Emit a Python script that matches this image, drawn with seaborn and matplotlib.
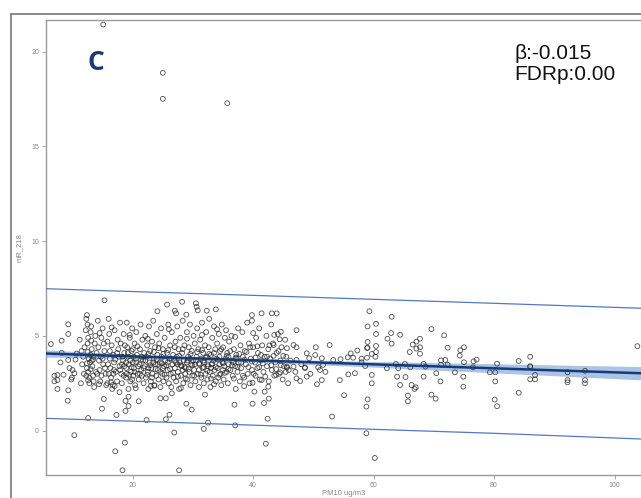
import numpy as np
import pandas as pd
import matplotlib
matplotlib.use("Agg")
import matplotlib.pyplot as plt
from matplotlib.lines import Line2D
import seaborn as sns

# ---------------- data ----------------
# observations (PM10 ug/m3, mR_218), grouped by PM10 band
band_06_14 = [(6.4,4.57),(7.0,2.9),(7.0,2.6),(7.5,2.2),(7.5,2.94),(7.5,2.67),(8.2,4.75),(8.2,4.11),(8.0,3.6),
              (8.5,2.95),(9.3,5.61),(9.3,5.1),(9.3,3.73),(9.2,1.58),(9.3,2.13),(9.5,3.3),(9.9,2.8),(10.3,3.03),
              (10.3,-0.24),(10.7,4.07),(10.5,3.75),(10.0,3.2),(9.8,2.7),
              (11.2,4.8),(11.5,4.2),(11.8,3.9),(11.6,3.5),(11.9,3.0),(11.4,2.5),(12.0,4.4),(12.2,5.3),(12.3,5.9),
              (12.4,6.1),(12.5,5.6),(12.6,4.9),(12.5,4.6),(12.4,3.3),(12.6,3.1),(12.6,0.67),(12.8,2.8),(12.8,2.5),
              (12.9,3.6),(13.0,4.0),(13.0,5.2),(13.1,5.5),(13.2,4.3),(13.3,3.4),(13.4,2.9),(13.5,2.6),(13.5,3.9),
              (13.7,4.6),(13.8,5.0),(13.9,3.1),(13.6,2.3),(12.7,3.8),(13.2,3.7),(12.3,2.9)]
band_14_22 = [(14.2,5.8),(14.3,4.4),(14.4,3.7),(14.5,3.2),(14.6,2.6),(14.4,2.45),(14.9,1.16),(14.8,4.9),(15.0,5.4),
              (15.1,3.5),(15.2,1.67),(15.3,6.88),(15.3,4.2),(15.5,3.0),(15.6,2.4),(15.8,2.5),(15.8,4.7),(16.0,5.9),
              (16.1,5.1),(16.2,3.8),(16.3,3.3),(16.4,2.8),(16.5,4.5),(16.6,2.2),(16.7,2.41),(16.8,4.0),(16.9,3.6),
              (17.0,5.3),(17.1,-1.09),(17.3,0.83),(17.2,3.1),(17.4,2.6),(17.5,4.8),(17.6,4.3),(17.8,2.03),
              (17.8,3.4),(17.9,5.7),(17.7,3.9),(14.7,3.9),(15.4,3.3),(16.0,3.0),(16.9,3.2),
              (18.0,4.6),(18.1,3.0),(18.2,2.5),(18.3,-2.09),(18.4,3.7),(18.5,5.1),(18.6,4.1),(18.7,-0.63),
              (18.8,1.04),(18.8,1.57),(18.9,2.8),(18.9,3.3),(19.0,5.7),(19.1,4.4),(19.2,3.9),(19.3,1.3),(19.3,1.79),
              (19.3,2.2),(19.4,3.5),(19.5,4.9),(19.6,2.6),(19.7,3.1),(19.8,4.2),(19.9,5.4),(20.0,3.6),(20.1,2.9),
              (20.2,3.3),(20.3,4.6),(20.4,2.4),(20.5,2.24),(20.5,3.8),(20.6,5.2),(20.7,4.0),(20.8,3.0),(21.0,1.55),
              (21.0,2.7),(21.1,3.5),(21.2,4.3),(21.3,5.6),(21.4,3.2),(21.5,2.9),(21.6,4.8),(21.7,3.7),(21.8,2.5),
              (21.9,4.1),(18.6,3.4),(19.0,3.0),(19.6,3.7),(20.2,3.9),(20.9,3.4),(21.5,3.9),(18.3,3.9),(19.9,2.7)]
band_22_30 = [(22.0,3.4),(22.1,5.0),(22.2,2.8),(22.3,0.56),(22.3,3.9),(22.4,4.5),(22.5,3.1),(22.6,2.2),(22.7,5.5),
              (22.8,3.6),(22.9,4.2),(23.0,2.6),(23.1,3.3),(23.2,4.7),(23.3,3.0),(23.4,5.8),(23.5,3.8),(23.6,2.4),
              (23.6,2.37),(23.7,4.4),(23.8,3.5),(23.9,2.9),(24.0,5.1),(24.1,6.3),(24.1,4.0),(24.2,3.2),(24.3,2.7),
              (24.4,4.6),(24.5,3.6),(24.6,1.71),(24.6,2.3),(24.7,5.4),(24.8,3.9),(24.9,3.0),(25.0,4.3),(25.1,2.6),
              (25.2,3.4),(25.3,4.9),(25.5,1.71),(25.5,0.6),(25.4,3.7),(25.6,2.8),(25.7,6.65),(25.7,4.1),(25.8,3.2),
              (25.9,5.6),(26.0,2.5),(26.1,0.84),(26.1,3.8),(22.6,3.3),(23.4,3.6),(24.2,3.5),(25.0,3.3),(25.8,3.6),
              (26.2,4.5),(26.3,3.0),(26.4,2.3),(26.5,1.97),(26.5,5.2),(26.6,3.5),(26.7,4.0),(26.8,2.8),(26.9,-0.1),
              (27.0,6.33),(27.0,3.3),(27.1,4.7),(27.2,6.19),(27.2,2.6),(27.3,3.9),(27.4,5.5),(27.5,3.1),(27.6,4.3),
              (27.7,-2.09),(27.7,2.2),(27.8,3.6),(27.9,4.9),(28.0,2.9),(28.1,3.4),(28.2,6.8),(28.2,4.1),(28.3,5.8),
              (28.4,2.5),(28.5,3.7),(28.6,4.5),(28.7,3.0),(28.9,1.42),(28.9,6.12),(28.8,3.3),(29.0,5.2),(29.1,2.7),
              (29.2,3.9),(29.3,4.4),(29.4,3.1),(29.5,5.6),(29.6,2.4),(29.7,3.5),(29.8,1.11),(29.8,4.2),(29.9,2.9),
              (26.9,3.7),(27.5,3.5),(28.3,3.2),(29.0,3.6),(29.5,3.8)]
band_30_38 = [(30.0,3.7),(30.1,5.0),(30.2,3.2),(30.3,4.6),(30.5,6.72),(30.6,6.54),(30.4,2.6),(30.6,3.9),(30.7,5.4),
              (30.8,6.35),(30.8,3.0),(30.9,4.3),(31.0,2.3),(31.1,3.5),(31.2,4.8),(31.3,3.8),(31.4,2.8),(31.5,5.7),
              (31.6,3.3),(31.7,4.1),(31.8,0.09),(31.8,2.5),(31.9,3.6),(32.0,1.9),(32.0,4.5),(32.1,3.0),(32.2,5.2),
              (32.3,6.33),(32.3,3.9),(32.4,2.7),(32.5,0.42),(32.5,3.4),(32.6,4.4),(32.7,5.9),(32.8,3.1),(32.9,2.3),
              (33.0,4.0),(33.1,3.5),(33.2,4.9),(33.3,2.9),(33.4,3.7),(33.5,5.5),(33.6,3.2),(33.7,4.3),(33.8,6.4),
              (33.8,2.6),(33.9,3.8),(30.3,3.5),(31.0,3.2),(31.7,3.7),(32.4,3.5),(33.0,3.3),
              (34.0,4.6),(34.1,3.3),(34.2,2.8),(34.3,5.1),(34.4,3.9),(34.5,4.2),(34.6,3.0),(34.7,2.4),(34.8,5.6),
              (34.9,3.6),(35.0,4.4),(35.1,2.7),(35.2,3.4),(35.3,4.9),(35.4,3.8),(35.5,5.3),(35.6,3.1),(35.7,4.1),
              (35.8,2.5),(35.9,3.5),(36.0,4.7),(36.2,3.2),(36.4,5.0),(36.5,3.7),(36.6,2.9),(36.8,4.3),(36.9,1.37),
              (37.0,0.28),(37.0,3.4),(37.1,2.2),(37.2,4.0),(37.4,3.1),(37.5,5.4),(37.6,3.6),(37.8,2.6),(37.9,4.5),
              (34.4,3.5),(35.0,3.2),(35.9,3.9),(36.7,3.6),(37.3,3.8)]
band_38_54 = [(38.0,3.3),(38.2,5.2),(38.3,3.9),(38.5,2.8),(38.6,4.2),(38.8,3.5),(39.0,5.7),(39.1,3.0),(39.3,4.6),
              (39.4,2.5),(39.6,3.8),(39.8,6.1),(39.8,5.8),(39.8,3.2),(39.9,1.42),(39.9,2.53),(40.0,4.4),(40.2,2.06),
              (40.3,3.6),(40.4,2.9),(40.5,4.9),(40.7,3.3),(40.8,4.1),(41.0,5.4),(41.1,2.7),(41.3,3.7),(41.4,6.19),
              (41.4,2.67),(41.5,4.5),(41.7,3.1),(41.8,1.46),(41.9,2.06),(41.9,3.9),
              (42.1,-0.69),(42.2,5.0),(42.3,3.4),(42.4,0.63),(42.5,4.3),(42.5,2.32),(42.6,1.69),(42.6,2.6),
              (42.8,3.8),(43.0,5.6),(43.1,6.19),(43.1,3.2),(43.3,4.6),(43.4,4.52),(43.5,2.9),(43.7,3.6),(43.8,2.94),
              (43.9,6.19),(43.9,4.1),(44.1,5.1),(44.3,3.0),(44.4,4.82),(44.5,3.08),(44.5,3.7),(44.6,5.22),(44.7,4.4),
              (44.9,2.7),(45.1,3.4),(45.3,4.8),(45.5,3.9),(45.6,4.35),(45.6,3.38),(45.6,3.32),(45.8,2.5),(45.9,3.2),
              (46.7,4.52),(46.7,3.38),(47.2,5.3),(47.2,4.4),(47.2,3.73),(47.2,2.76),(47.8,2.62),(48.6,3.34),
              (48.6,3.3),(48.9,4.08),(48.9,2.85),(49.3,3.82),(50.3,3.99),(50.4,4.4),(50.6,2.45),(50.8,3.34),
              (51.1,3.2),(51.4,3.82),(51.4,2.67),(51.6,3.47),(52.7,4.52),(53.1,0.74),(53.3,3.73),(46.2,3.7),
              (47.0,3.1),(48.0,3.5),(49.5,3.0),(52.0,3.1)]
band_54_up = [(54.4,2.67),(54.5,3.77),(55.1,1.87),(55.7,3.87),(55.8,2.97),(56.2,4.08),(56.6,3.85),(56.9,3.03),
              (57.3,4.23),(58.0,3.8),(58.0,3.61),(58.6,3.41),(58.8,1.27),(58.8,-0.14),(58.9,4.36),(58.9,3.85),
              (59.0,5.5),(59.0,4.68),(59.0,4.38),(59.0,1.65),(59.3,6.3),(59.7,4.05),(59.7,2.94),(59.7,2.5),
              (60.2,-1.44),(60.3,3.9),(60.4,5.64),(60.4,5.1),(60.4,4.47),(60.4,4.15),(62.2,3.29),(62.3,4.85),
              (62.9,5.15),(63.0,6.01),(63.0,4.59),(63.7,3.52),(63.9,2.85),(64.1,3.29),(64.4,5.06),(64.4,2.41),
              (65.2,3.52),(65.3,2.83),(65.7,1.85),(65.7,1.55),(66.0,4.15),(66.1,3.34),(66.3,2.41),(66.5,4.54),
              (66.8,2.2),(67.0,2.29),(67.1,4.7),(67.1,4.33),(67.7,4.85),(67.7,4.4),(67.7,4.06),(68.3,3.52),
              (68.3,2.85),(68.6,3.38),(69.6,5.36),(69.6,1.9),(70.3,1.69),(70.4,3.03),(71.1,2.6),(71.2,3.71),
              (71.2,3.48),(71.7,5.03),(71.9,3.73),(72.3,4.38),(72.3,3.48),(73.5,3.08),(74.3,3.96),(74.4,4.24),
              (74.9,2.85),(74.9,2.32),(75.0,4.4),(75.0,3.61),(76.5,3.34),(76.6,3.66),(77.1,3.75),(79.3,3.08),
              (80.1,1.64),(80.2,3.08),(80.2,2.6),(80.5,3.53),(80.5,1.29),(84.1,3.68),(84.1,2.0),(86.0,3.9),
              (86.0,3.4),(86.0,3.38),(86.0,2.71),(86.8,2.94),(86.8,2.71),(92.2,3.08),(92.2,2.67),(92.2,2.55),
              (95.1,3.16),(95.1,2.67),(95.1,2.5),(103.8,4.46)]
# extra overlapping observations in the dense core (12-46 ug/m3)
core_extra = [(12.4,3.55),(12.5,4.15),(12.6,2.65),(13.0,3.25),(13.1,4.75),(13.4,3.75),(14.0,4.1),(14.1,3.0),
              (14.8,2.9),(15.0,3.8),(15.2,4.6),(15.9,3.5),(16.2,4.2),(16.4,2.55),(16.8,3.0),(17.1,3.75),
              (17.4,4.1),(17.9,3.2),(18.2,3.5),(18.5,2.9),(18.7,4.5),(18.9,3.6),(19.2,4.1),(19.4,2.95),
              (19.8,3.35),(20.0,4.3),(20.3,3.1),(20.6,3.6),(20.8,4.45),(21.2,3.0),(21.4,3.75),(21.8,3.3),
              (22.1,3.7),(22.4,2.95),(22.6,4.05),(22.9,3.45),(23.2,2.8),(23.5,4.15),(23.8,3.25),(24.0,3.75),
              (24.3,4.35),(24.6,3.1),(24.8,3.55),(25.1,4.05),(25.3,2.95),(25.6,3.45),(25.9,4.25),(26.2,3.25),
              (26.4,3.8),(26.7,3.05),(27.0,4.4),(27.2,3.6),(27.5,2.85),(27.7,3.95),(28.0,3.45),(28.3,4.3),
              (28.6,3.35),(28.8,2.75),(29.1,3.7),(29.3,3.25),(29.6,4.05),(29.9,3.45),(30.2,2.9),(30.5,3.7),
              (30.7,4.15),(31.0,3.55),(31.3,2.95),(31.5,4.25),(31.8,3.35),(32.1,3.85),(32.4,3.15),(32.7,4.05),
              (33.0,2.75),(33.2,3.55),(33.5,4.1),(33.8,3.35),(34.1,3.75),(34.4,2.95),(34.7,4.3),(35.0,3.55),
              (35.3,3.05),(35.6,3.95),(35.9,3.25),(36.2,4.2),(36.5,3.45),(36.8,2.75),(37.1,3.85),(37.4,3.35),
              (37.7,4.05),(38.0,3.6),(38.3,2.9),(38.6,3.75),(38.9,4.15),(39.2,3.35),(39.5,4.4),(39.8,3.65),
              (40.1,3.0),(40.4,3.85),(40.7,4.45),(41.0,3.35),(41.3,4.0),(41.6,3.55),(42.0,2.85),(42.3,3.9),
              (42.7,4.5),(43.0,3.45),(43.4,3.95),(43.8,3.25),(44.2,4.2),(44.6,3.45),(45.0,3.95),(45.4,3.1),
              (14.5,5.15),(16.5,5.45),(19.5,5.05),(22.5,4.85),(26.0,5.35),(29.0,4.85),(31.5,5.05),(34.0,5.35),
              (37.0,4.95),(40.0,5.15),(43.5,5.05),(17.0,2.35),(23.0,2.35),(28.0,2.25),(33.5,2.45),(38.5,2.35)]
high_outliers = [(15.1,21.43),(25.0,18.88),(25.0,17.51),(35.7,17.28)]

# fitted regression line, its confidence band and prediction limits
fit_x = [5.6, 20.0, 30.0, 40.0, 60.0, 80.0, 104.4]
fit_y = [4.07, 3.92, 3.82, 3.71, 3.50, 3.29, 3.03]
ci_half = [0.19, 0.11, 0.09, 0.09, 0.15, 0.24, 0.35]
pi_upper = [7.49, 7.34, 7.24, 7.14, 6.93, 6.72, 6.46]
pi_lower = [0.65, 0.50, 0.40, 0.29, 0.07, -0.14, -0.44]

x_ticks = [20, 40, 60, 80, 100]
y_ticks = [0, 5, 10, 15, 20]
panel_label = "C"
stats_text = "β:-0.015\nFDRp:0.00"
x_label = "PM10 ug/m3"
y_label = "mR_218"

# ---------------- figure ----------------
sns.set_style("white")
plt.rcParams['font.family'] = ['Liberation Sans', 'DejaVu Sans']

W, H = 641, 498
fig = plt.figure(figsize=(W/100, H/100), dpi=100)
ax = fig.add_axes([46/W, 1-475/H, 1-46/W, (475-20)/H])

pts = (band_06_14 + band_14_22 + band_22_30 + band_30_38 + band_38_54 + band_54_up
       + core_extra + high_outliers)
df = pd.DataFrame(pts, columns=["pm10", "mir"])

# confidence band
lo = np.array(fit_y) - np.array(ci_half)
hi = np.array(fit_y) + np.array(ci_half)
ax.fill_between(fit_x, lo, hi, color="#8fb0de", alpha=0.75, lw=0, zorder=1)

sns.scatterplot(data=df, x="pm10", y="mir", ax=ax, marker="o", s=12,
                facecolor="none", edgecolor="#222222", linewidth=0.6, alpha=0.8, zorder=2)

line_df = pd.DataFrame({"x": fit_x, "fit": fit_y, "up": pi_upper, "lo": pi_lower})
sns.lineplot(data=line_df, x="x", y="fit", ax=ax, color="#173a78", lw=1.8, zorder=3)
sns.lineplot(data=line_df, x="x", y="up", ax=ax, color="#5577c4", lw=0.9, zorder=3)
sns.lineplot(data=line_df, x="x", y="lo", ax=ax, color="#5577c4", lw=0.9, zorder=3)

ax.set_xlim(5.6, 104.4)
ax.set_ylim(-2.34, 21.67)
ax.set_xticks(x_ticks)
ax.set_yticks(y_ticks)
ax.tick_params(axis="both", which="both", length=3, width=0.6, color="#999999",
               labelsize=5, labelcolor="#888888", pad=2, direction="out")
ax.tick_params(axis="x", bottom=True)
ax.tick_params(axis="y", left=True)
for side in ["left", "bottom", "top"]:
    ax.spines[side].set_color("#9a9a9a")
    ax.spines[side].set_linewidth(1.0)
ax.spines["right"].set_visible(False)

ax.set_xlabel(x_label, fontsize=5.5, color="#888888", labelpad=1)
ax.set_ylabel(y_label, fontsize=5.5, color="#888888", labelpad=6)

fig.text(96/W, 1-62/H, panel_label, ha="center", va="center", fontsize=19,
         fontweight="bold", color="#1f3b6e", family=["Open Sans", "DejaVu Sans"])
fig.text(514/W, 1-44/H, stats_text, ha="left", va="top", fontsize=15,
         color="#111111", linespacing=1.15)

# outer frame
fig.add_artist(Line2D([11/W, 11/W], [1-14/H, 0], transform=fig.transFigure, color="#777777", lw=1.2))
fig.add_artist(Line2D([11/W, 1], [1-14/H, 1-14/H], transform=fig.transFigure, color="#777777", lw=1.2))

fig.savefig("out.png", dpi=100)
